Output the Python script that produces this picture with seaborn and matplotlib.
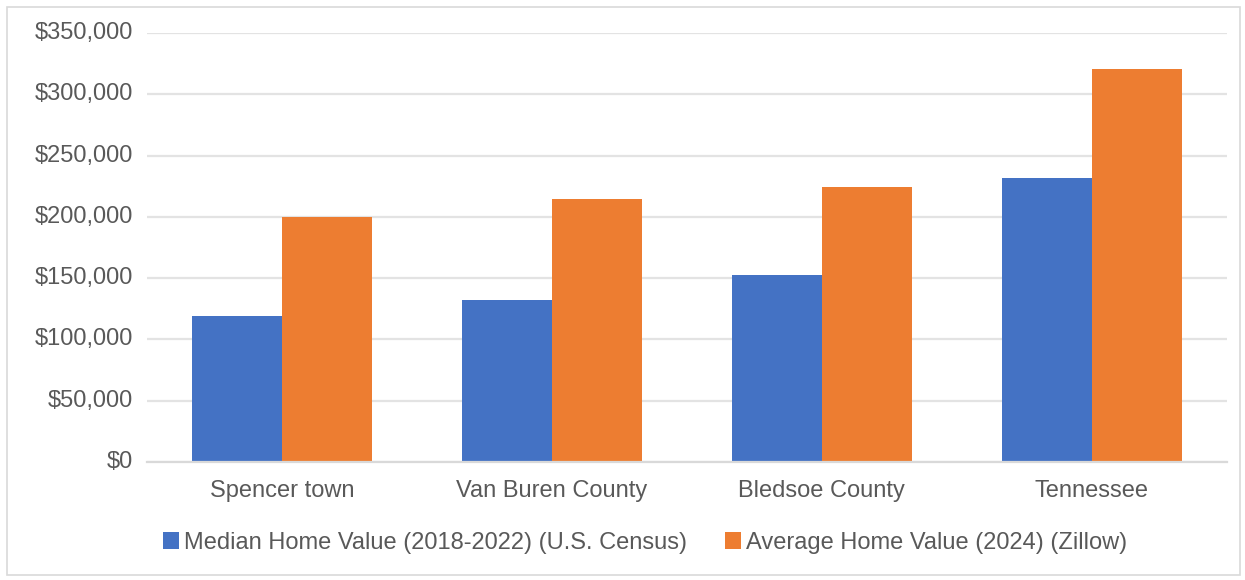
import matplotlib
matplotlib.use("Agg")
import matplotlib.pyplot as plt
import seaborn as sns
import pandas as pd
from matplotlib.ticker import FuncFormatter
from matplotlib.patches import Rectangle

categories = ["Spencer town", "Van Buren County", "Bledsoe County", "Tennessee"]
median_census = [119300, 132300, 152800, 231900]
average_zillow = [200000, 214500, 224800, 320900]
series_names = ["Median Home Value (2018-2022) (U.S. Census)",
                "Average Home Value (2024) (Zillow)"]
yticks = [0, 50000, 100000, 150000, 200000, 250000, 300000, 350000]

df = pd.DataFrame({
    "place": categories * 2,
    "value": median_census + average_zillow,
    "series": [series_names[0]] * 4 + [series_names[1]] * 4,
})

sns.set_theme(style="white")
plt.rcParams["font.family"] = ["Liberation Sans", "DejaVu Sans"]

fig = plt.figure(figsize=(12.45, 5.8), dpi=100)
ax = fig.add_axes([0.118, 0.2034, 0.8675, 0.7396])

sns.barplot(data=df, x="place", y="value", hue="series", order=categories,
            hue_order=series_names, palette=["#4472C4", "#ED7D31"],
            width=0.667, saturation=1, ax=ax, linewidth=0)

ax.set_ylim(0, 350000)
ax.set_yticks(yticks)
ax.yaxis.set_major_formatter(FuncFormatter(lambda v, p: "${:,.0f}".format(v)))
ax.grid(axis="y", color="#e3e3e3", linewidth=1.6)
ax.set_axisbelow(True)
for s in ["top", "right", "left"]:
    ax.spines[s].set_visible(False)
ax.spines["bottom"].set_color("#d9d9d9")
ax.spines["bottom"].set_linewidth(1.6)
ax.set_xlabel("")
ax.set_ylabel("")
ax.tick_params(axis="both", length=0, labelsize=17, colors="#595959")
ax.tick_params(axis="x", pad=13)
ax.tick_params(axis="y", pad=10)
for lbl in ax.get_yticklabels():
    lbl.set_verticalalignment("center")

h, l = ax.get_legend_handles_labels()
ax.legend(h, l, loc="center", bbox_to_anchor=(0.518, 0.064),
          bbox_transform=fig.transFigure, ncol=2, frameon=False,
          fontsize=17, labelcolor="#595959", handlelength=0.7,
          handleheight=0.7, handletextpad=0.2, columnspacing=1.6)

fig.patches.append(Rectangle((0.0056, 0.008), 0.9904, 0.98, transform=fig.transFigure,
                             fill=False, edgecolor="#d9d9d9", linewidth=1.2))

fig.savefig("out.png", dpi=100)
